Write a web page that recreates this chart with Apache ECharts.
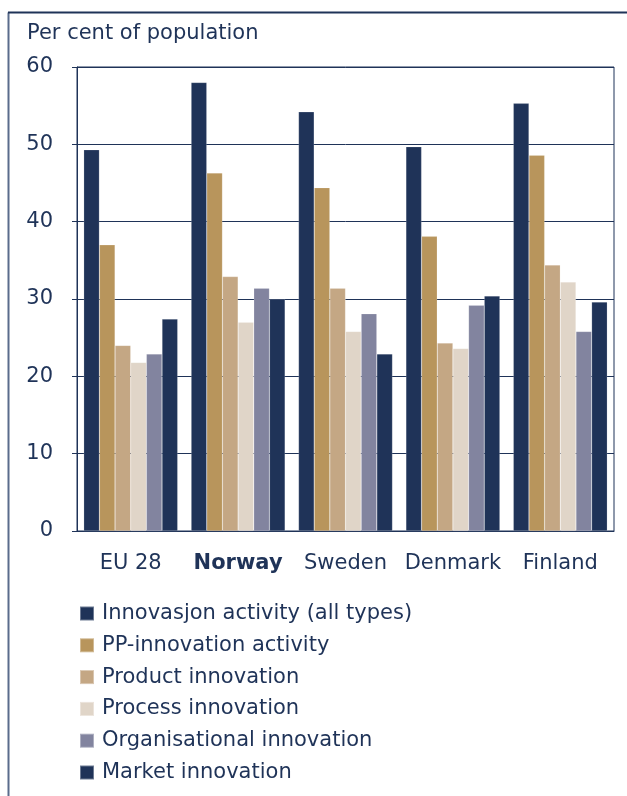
<!DOCTYPE html>
<html>
<head>
<meta charset="utf-8">
<script src="https://cdn.jsdelivr.net/npm/echarts@6/dist/echarts.min.js"></script>
<style>html,body{margin:0;padding:0;background:#fff}#c{width:627px;height:796px}</style>
</head>
<body>
<div id="c"></div>
<script>
const categories = ['EU 28', 'Norway', 'Sweden', 'Denmark', 'Finland'];
const seriesNames = ['Innovasjon activity (all types)', 'PP-innovation activity', 'Product innovation', 'Process innovation', 'Organisational innovation', 'Market innovation'];
const innovasjon = [49.3, 58.0, 54.2, 49.7, 55.3];
const ppInnovation = [37.0, 46.3, 44.4, 38.1, 48.6];
const product = [24.0, 32.9, 31.4, 24.3, 34.4];
const process = [21.8, 27.0, 25.8, 23.6, 32.2];
const organisational = [22.9, 31.4, 28.1, 29.2, 25.8];
const market = [27.4, 30.0, 22.9, 30.4, 29.6];
const yTicks = [0, 10, 20, 30, 40, 50, 60];

const colors = ['#1f3358', '#b8955c', '#c4a784', '#e0d5c8', '#82849f', '#1f3358'];
const values = [innovasjon, ppInnovation, product, process, organisational, market];
const font = 'DejaVu Sans';
const navy = '#1f3358';
const fs = 21;

const chart = echarts.init(document.getElementById('c'), null, {renderer: 'canvas'});
chart.setOption({
  animation: false,
  color: colors,
  title: {
    text: 'Per cent of population',
    left: 27, top: 23, padding: 0,
    textStyle: {fontFamily: font, fontSize: fs, fontWeight: 'normal', color: navy}
  },
  grid: {
    left: 77, top: 67, right: 13, bottom: 265,
    show: true, borderColor: navy, borderWidth: 1, backgroundColor: 'transparent'
  },
  legend: {
    orient: 'vertical',
    left: 79, top: 603, padding: 0,
    itemWidth: 14, itemHeight: 14, itemGap: 10.8,
    icon: 'rect',
    data: seriesNames,
    textStyle: {fontFamily: font, fontSize: fs, color: navy, padding: [0, 0, 0, 3]}
  },
  xAxis: {
    type: 'category',
    data: categories,
    axisLine: {show: true, lineStyle: {color: navy, width: 1}},
    axisTick: {show: false},
    axisLabel: {
      interval: 0,
      margin: 22,
      fontFamily: font, fontSize: fs, color: navy,
      formatter: function (v) { return v === 'Norway' ? '{b|' + v + '}' : v; },
      rich: {b: {fontFamily: font, fontSize: fs, fontWeight: 'bold', color: navy}}
    }
  },
  yAxis: {
    type: 'value',
    min: yTicks[0], max: yTicks[yTicks.length - 1], interval: 10,
    axisLine: {show: true, lineStyle: {color: navy, width: 1}},
    axisTick: {show: true, length: 5, lineStyle: {color: navy}},
    splitLine: {show: true, lineStyle: {color: navy, width: 1}},
    axisLabel: {margin: 24, fontFamily: font, fontSize: fs, color: navy, padding: [3, 0, 0, 0]}
  },
  graphic: [
    {type: 'line', shape: {x1: 8.5, y1: 12.5, x2: 8.5, y2: 800}, style: {stroke: '#5a6c8c', lineWidth: 2}},
    {type: 'line', shape: {x1: 8, y1: 12.5, x2: 630, y2: 12.5}, style: {stroke: navy, lineWidth: 2}}
  ],
  series: seriesNames.map(function (n, i) {
    return {
      name: n, type: 'bar', data: values[i],
      barGap: '0%', barCategoryGap: '12.5%',
      itemStyle: {color: colors[i], borderColor: 'rgba(255,255,255,0.35)', borderWidth: 0.5}
    };
  })
});
</script>
</body>
</html>
